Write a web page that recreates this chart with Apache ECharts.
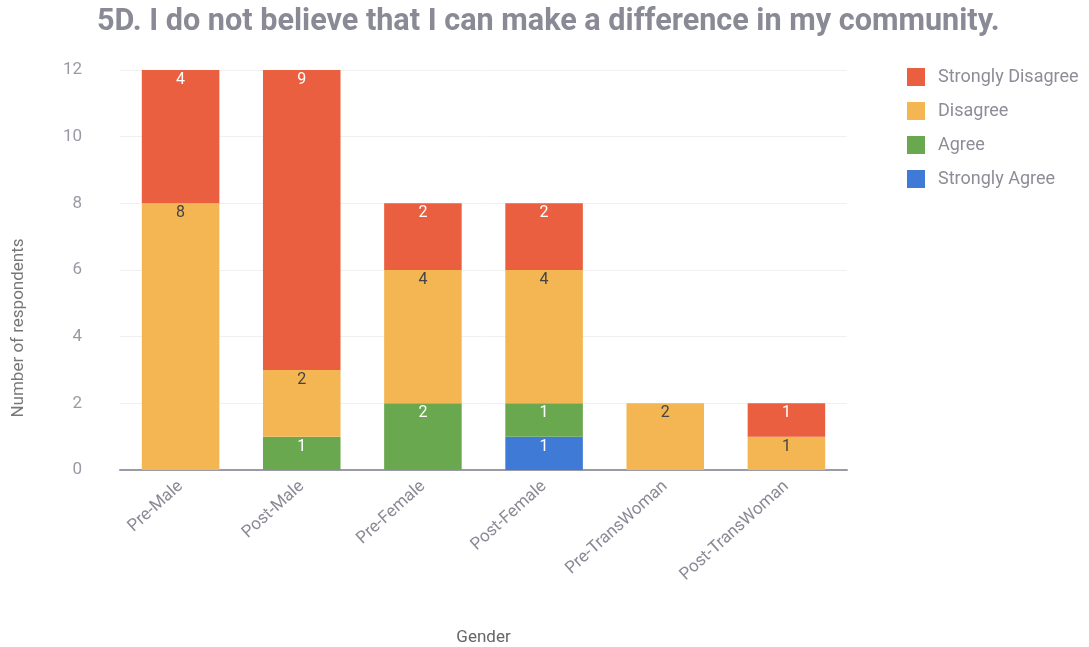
<!DOCTYPE html>
<html>
<head>
<meta charset="utf-8">
<script src="https://cdn.jsdelivr.net/npm/echarts@6/dist/echarts.min.js"></script>
<style>
  html, body { margin: 0; padding: 0; background: #fff; }
  #chart { width: 1089px; height: 647px; }
</style>
</head>
<body>
<div id="chart"></div>
<script>
// Survey item 5D, responses by group
const categories = ['Pre-Male', 'Post-Male', 'Pre-Female', 'Post-Female', 'Pre-TransWoman', 'Post-TransWoman'];
const stronglyDisagree = [4, 9, 2, 2, 0, 1];
const disagree = [8, 2, 4, 4, 2, 1];
const agree = [0, 1, 2, 1, 0, 0];
const stronglyAgree = [0, 0, 0, 1, 0, 0];
const yTicks = [0, 2, 4, 6, 8, 10, 12];

const colors = {
  sd: '#e95f3f',
  d: '#f4b652',
  a: '#6aa84f',
  sa: '#3f7bd6'
};

function seg(name, data, color, labelColor) {
  return {
    name: name,
    type: 'bar',
    stack: 'total',
    barWidth: '64%',
    data: data.map(v => (v === 0 ? null : v)),
    itemStyle: { color: color },
    label: {
      show: true,
      position: 'insideTop',
      distance: 2,
      color: labelColor,
      fontFamily: 'Roboto',
      fontSize: 16
    }
  };
}

const chart = echarts.init(document.getElementById('chart'));
chart.setOption({
  animation: false,
  backgroundColor: '#ffffff',
  title: {
    text: '5D. I do not believe that I can make a difference in my community.',
    left: 92,
    top: 2,
    textStyle: {
      fontFamily: 'Roboto',
      fontWeight: 'bold',
      fontSize: 30.6,
      color: '#8a8a96'
    }
  },
  legend: {
    orient: 'vertical',
    left: 907,
    top: 68,
    padding: 0,
    itemWidth: 18,
    itemHeight: 18,
    itemGap: 16,
    icon: 'rect',
    data: ['Strongly Disagree', 'Disagree', 'Agree', 'Strongly Agree'],
    textStyle: { fontFamily: 'Roboto', fontSize: 18, color: '#8d8d98', padding: [0, 0, 0, 8] }
  },
  grid: { left: 120, right: 242, top: 70, bottom: 177, outerBoundsMode: 'none' },
  xAxis: {
    type: 'category',
    data: categories,
    name: 'Gender',
    nameLocation: 'middle',
    nameGap: 159,
    nameTextStyle: { fontFamily: 'Roboto', fontSize: 17, color: '#666' },
    axisLine: { lineStyle: { color: '#9a9aa8', width: 2 } },
    axisTick: { show: false },
    axisLabel: {
      rotate: 42,
      margin: 14,
      fontFamily: 'Roboto',
      fontSize: 17,
      color: '#8a8a96'
    }
  },
  yAxis: {
    type: 'value',
    min: yTicks[0],
    max: yTicks[yTicks.length - 1],
    interval: 2,
    name: 'Number of respondents',
    nameLocation: 'middle',
    nameGap: 93,
    nameTextStyle: {
      fontFamily: 'Roboto', fontSize: 17, color: '#777',
      padding: [0, 116, 0, 0]
    },
    axisLine: { show: false },
    axisTick: { show: false },
    splitLine: { lineStyle: { color: '#f0f0f0' } },
    axisLabel: {
      margin: 38,
      fontFamily: 'Roboto',
      fontSize: 17,
      color: '#9a9aa6'
    }
  },
  series: [
    seg('Strongly Agree', stronglyAgree, colors.sa, '#ffffff'),
    seg('Agree', agree, colors.a, '#ffffff'),
    seg('Disagree', disagree, colors.d, '#444444'),
    seg('Strongly Disagree', stronglyDisagree, colors.sd, '#ffffff')
  ]
});
</script>
</body>
</html>
